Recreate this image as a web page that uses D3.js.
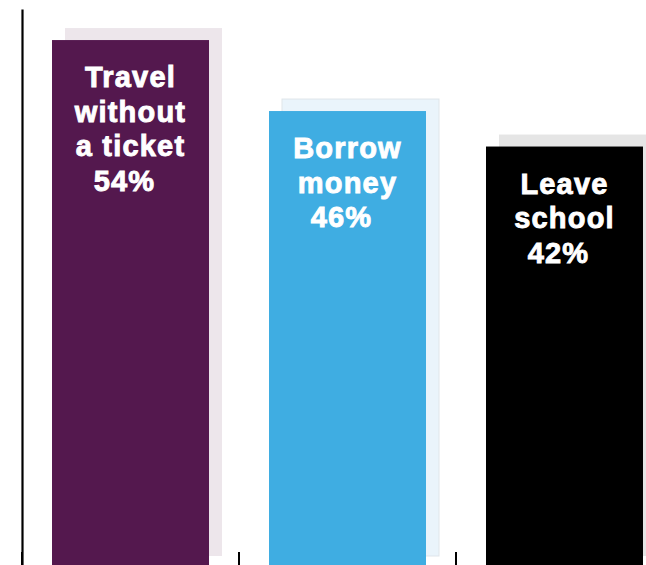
<!DOCTYPE html>
<html>
<head>
<meta charset="utf-8">
<script src="https://cdn.jsdelivr.net/npm/d3@7"></script>
<style>
  html, body { margin: 0; padding: 0; background: #ffffff; }
  svg { display: block; }
  .lbl { font-family: "Liberation Sans", Arial, Helvetica, sans-serif; font-weight: bold; fill: #ffffff; stroke: #ffffff; stroke-width: 0.9px; letter-spacing: 1.2px; }
</style>
</head>
<body>
<script>
// Things young people admit they would do
const categories = ["travel", "borrow", "leave"];
const labelLines = [["Travel", "without", "a ticket"], ["Borrow", "money"], ["Leave", "school"]];
const values = [54, 46, 42];

const width = 646, height = 565;
const svg = d3.select("body").append("svg")
  .attr("width", width).attr("height", height);

const x = d3.scaleBand()
  .domain(categories)
  .range([22, 673])
  .paddingInner(0.2765)
  .paddingOuter(0.1383);

const y = d3.scaleLinear()
  .domain([-5.5, 57.5])
  .range([568, 9]);

const barColor = d3.scaleOrdinal().domain(categories).range(["#54184e", "#3fade2", "#000000"]);
const shadowColor = d3.scaleOrdinal().domain(categories).range(["#ede6eb", "#eaf4fb", "#e5e5e5"]);
const shadowEdge = d3.scaleOrdinal().domain(categories).range(["none", "#dfe5ea", "none"]);

const data = categories.map((c, i) => ({ key: c, value: values[i], lines: labelLines[i] }));
const shadowDx = 13, shadowDy = -12;

// offset backdrop panels
svg.append("g").selectAll("rect").data(data).join("rect")
  .attr("x", d => x(d.key) + shadowDx)
  .attr("y", d => y(d.value) + shadowDy)
  .attr("width", x.bandwidth())
  .attr("height", d => y(-5.5) - y(d.value))
  .attr("fill", d => shadowColor(d.key))
  .attr("stroke", d => shadowEdge(d.key))
  .attr("stroke-width", 1);

// bars
svg.append("g").selectAll("rect").data(data).join("rect")
  .attr("x", d => x(d.key))
  .attr("y", d => y(d.value))
  .attr("width", x.bandwidth())
  .attr("height", d => y.range()[0] - y(d.value))
  .attr("fill", d => barColor(d.key));

// y axis line
svg.append("g")
  .attr("transform", `translate(${x.range()[0]},0)`)
  .call(d3.axisLeft(y).ticks(0).tickSize(0).tickFormat(""))
  .call(g => g.select(".domain").attr("stroke", "#000").attr("stroke-width", 2.2));

// category boundary ticks along the baseline
const boundaries = d3.range(categories.length + 1).map(i => x.range()[0] + i * x.step());
svg.append("g").selectAll("line").data(boundaries).join("line")
  .attr("x1", d => d).attr("x2", d => d)
  .attr("y1", y.range()[0] - 16).attr("y2", y.range()[0])
  .attr("stroke", "#000").attr("stroke-width", 2);

// in-bar labels
const lineH = 34.5;
const labels = svg.append("g").selectAll("text").data(data).join("text")
  .attr("class", "lbl")
  .attr("font-size", 29)
  .attr("text-anchor", "middle");

labels.each(function(d) {
  const t = d3.select(this);
  const cx = x(d.key) + x.bandwidth() / 2;
  const y0 = y(d.value) + 47;
  d.lines.forEach((ln, i) => {
    t.append("tspan").attr("x", cx).attr("y", y0 + i * lineH).text(ln);
  });
  t.append("tspan").attr("x", cx - 6).attr("y", y0 + d.lines.length * lineH).text(d.value + "%");
});
</script>
</body>
</html>
